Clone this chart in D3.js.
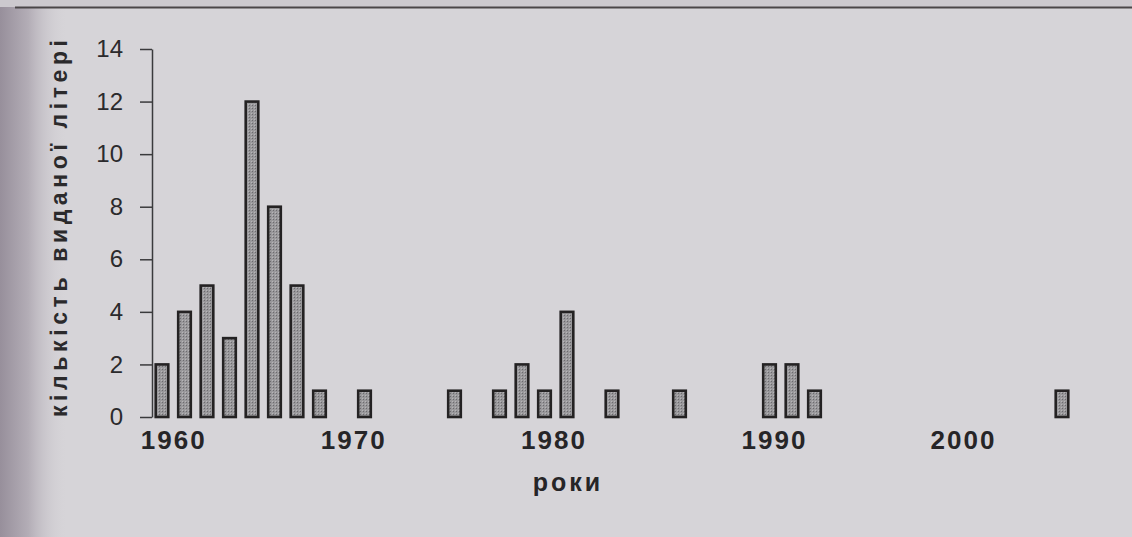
<!DOCTYPE html>
<html>
<head>
<meta charset="utf-8">
<script src="https://cdn.jsdelivr.net/npm/d3@7"></script>
<style>
  html, body { margin: 0; padding: 0; background: #d6d4d8; }
  #chart { width: 1132px; height: 537px; }
</style>
</head>
<body>
<div id="chart"></div>
<script>
// years that have published items, and how many
const years = [1960, 1961, 1962, 1963, 1964, 1965, 1966, 1967, 1969, 1973,
               1975, 1976, 1977, 1978, 1980, 1983, 1987, 1988, 1989, 2000]
const counts = [2, 4, 5, 3, 12, 8, 5, 1, 1, 1,
                1, 2, 1, 4, 1, 1, 2, 2, 1, 1]

// decade labels (set under the axis by hand in the original, so not on round years)
const xTickLabels = ["1960", "1970", "1980", "1990", "2000"]
const xTickAt = [1960.5, 1968.5, 1977.4, 1987.2, 1995.6]
const yTicks = [0, 2, 4, 6, 8, 10, 12, 14]

const yTitle = "кількість виданої літері"
const xTitle = "роки"

const W = 1132, H = 537
const margin = {top: 49, right: 70, bottom: 120, left: 162}

const svg = d3.select("#chart").append("svg")
  .attr("width", W)
  .attr("height", H)
  .style("font-family", "'Liberation Sans', Arial, sans-serif")

// paper look: shadow of the binding on the left, rule line at the top
const defs = svg.append("defs")
const grad = defs.append("linearGradient").attr("id", "binding")
grad.append("stop").attr("offset", "0%").attr("stop-color", "#978f9b")
grad.append("stop").attr("offset", "2.5%").attr("stop-color", "#b3adb6")
grad.append("stop").attr("offset", "6%").attr("stop-color", "#d6d4d8").attr("stop-opacity", 0)
grad.append("stop").attr("offset", "100%").attr("stop-color", "#d6d4d8").attr("stop-opacity", 0)

const pat = defs.append("pattern").attr("id", "dots")
  .attr("width", 3).attr("height", 3).attr("patternUnits", "userSpaceOnUse")
pat.append("rect").attr("width", 3).attr("height", 3).attr("fill", "#99989b")
pat.append("rect").attr("width", 1).attr("height", 1).attr("fill", "#6c6b6f")
pat.append("rect").attr("x", 2).attr("y", 2).attr("width", 1).attr("height", 1).attr("fill", "#b6b5b8")

svg.append("rect").attr("width", W).attr("height", H).attr("fill", "#d6d4d8")
svg.append("rect").attr("width", W).attr("height", H).attr("fill", "url(#binding)")
svg.append("rect").attr("x", 0).attr("y", 0).attr("width", W).attr("height", 7).attr("fill", "#ccc9ce")
svg.append("line").attr("x1", 15).attr("x2", W).attr("y1", 7.5).attr("y2", 7.5)
  .attr("stroke", "#4a4648").attr("stroke-width", 2)

// scales
const x = d3.scaleLinear().domain([1960, 2000]).range([margin.left, 1062])
const y = d3.scaleLinear().domain([0, 14]).range([417, margin.top])
const barW = (x(1961) - x(1960)) * 0.56

// y axis
const yAxis = d3.axisLeft(y)
  .tickValues(yTicks)
  .tickSize(12)
  .tickSizeOuter(0)
  .tickPadding(17)

const gy = svg.append("g")
  .attr("transform", "translate(152,0)")
  .call(yAxis)
gy.select(".domain").attr("stroke", "#3a3a3c").attr("stroke-width", 1.5)
gy.selectAll(".tick line").attr("stroke", "#3a3a3c").attr("stroke-width", 1.5)
gy.selectAll(".tick text")
  .attr("fill", "#2b2a2c")
  .style("font-size", "24px")

// bars
svg.append("g").selectAll("rect")
  .data(years)
  .enter()
  .append("rect")
  .attr("x", (d) => x(d) - barW / 2)
  .attr("y", (d, i) => y(counts[i]))
  .attr("width", barW)
  .attr("height", (d, i) => y(0) - y(counts[i]))
  .attr("fill", "url(#dots)")
  .attr("stroke", "#242223")
  .attr("stroke-width", 2.6)

// x labels
const xAxis = d3.axisBottom(x)
  .tickValues(xTickAt)
  .tickFormat((d, i) => xTickLabels[i])
  .tickSize(0)
  .tickPadding(14)

const gx = svg.append("g")
  .attr("transform", "translate(0,417)")
  .call(xAxis)
gx.select(".domain").remove()
gx.selectAll(".tick text")
  .attr("fill", "#262527")
  .style("font-size", "26px")
  .style("font-weight", "bold")
  .style("letter-spacing", "2px")

// axis titles
svg.append("text")
  .attr("transform", "translate(67,417) rotate(-90)")
  .attr("text-anchor", "start")
  .attr("textLength", 377)
  .attr("lengthAdjust", "spacing")
  .attr("fill", "#2b2a2c")
  .style("font-size", "23px")
  .style("font-weight", "bold")
  .text(yTitle)

svg.append("text")
  .attr("x", 568)
  .attr("y", 491)
  .attr("text-anchor", "middle")
  .attr("fill", "#262527")
  .style("font-size", "25px")
  .style("font-weight", "bold")
  .style("letter-spacing", "3px")
  .text(xTitle)
</script>
</body>
</html>
